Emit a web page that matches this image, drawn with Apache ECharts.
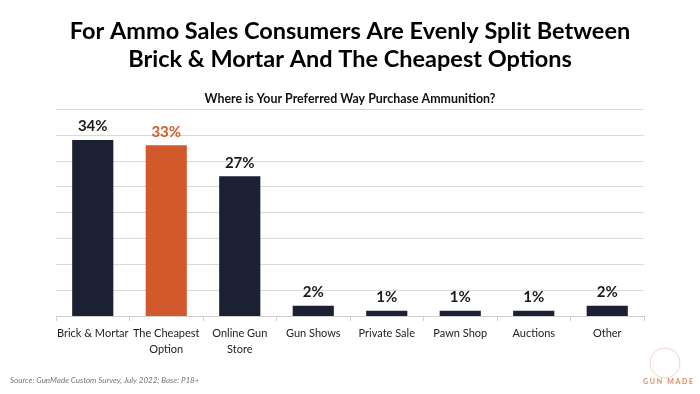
<!DOCTYPE html>
<html>
<head>
<meta charset="utf-8">
<script src="https://cdn.jsdelivr.net/npm/echarts@6/dist/echarts.min.js"></script>
<style>html,body{margin:0;padding:0;background:#fff;}#c{width:700px;height:394px;}</style>
</head>
<body>
<div id="c"></div>
<script>
var categories = ['Brick & Mortar', 'The Cheapest\nOption', 'Online Gun\nStore', 'Gun Shows', 'Private Sale', 'Pawn Shop', 'Auctions', 'Other'];
var values = [34, 33, 27, 2, 1, 1, 1, 2];
var highlightIndex = 1;
var NAVY = '#1b2133', ORANGE = '#d2592b';

var chart = echarts.init(document.getElementById('c'), null, {renderer: 'canvas'});
var FONT = 'Lato, "Open Sans", sans-serif';
chart.setOption({
  animation: false,
  backgroundColor: '#fff',
  title: [
    {text: 'For Ammo Sales Consumers Are Evenly Split Between\nBrick & Mortar And The Cheapest Options', left: 'center', top: 12,
     textStyle: {fontFamily: FONT, fontWeight: 'bold', fontSize: 23.5, lineHeight: 28, color: '#000'}},
    {text: 'Where is Your Preferred Way Purchase Ammunition?', left: 'center', top: 88,
     textStyle: {fontFamily: FONT, fontWeight: 'bold', fontSize: 12.4, color: '#111'}}
  ],
  grid: {left: 56, right: 56, top: 109, bottom: 78},
  xAxis: {
    type: 'category', data: categories,
    axisLine: {lineStyle: {color: '#cfcfcf'}},
    axisTick: {show: true, length: 5, lineStyle: {color: '#cfcfcf'}},
    axisLabel: {fontFamily: FONT, fontSize: 11, color: '#222', margin: 9, lineHeight: 16, interval: 0}
  },
  yAxis: {
    type: 'value', min: 0, max: 40, interval: 5,
    axisLine: {show: false}, axisTick: {show: false}, axisLabel: {show: false},
    splitLine: {lineStyle: {color: '#d9d9d9'}}
  },
  series: [{
    type: 'bar', barWidth: '56%',
    data: values.map(function (v, i) {
      return {value: v, itemStyle: {color: i === highlightIndex ? ORANGE : NAVY},
        label: {color: i === highlightIndex ? ORANGE : '#1a1a1a'}};
    }),
    label: {show: true, position: 'top', distance: 6, formatter: '{c}%',
      fontFamily: FONT, fontWeight: 'bold', fontSize: 15}
  }],
  graphic: [
    {type: 'text', left: 10, top: 376, style: {text: 'Source: GunMade Custom Survey, July 2022; Base: P18+',
      font: 'italic 8px ' + FONT, fill: '#777'}},
    {type: 'circle', shape: {cx: 665, cy: 363, r: 15}, style: {fill: 'none', stroke: '#f0d6cc', lineWidth: 1}},
    {type: 'text', left: 643, top: 378, style: {text: 'G U N   M A D E', font: 'bold 7px ' + FONT, fill: '#d98a6a'}}
  ]
});
</script>
</body>
</html>
